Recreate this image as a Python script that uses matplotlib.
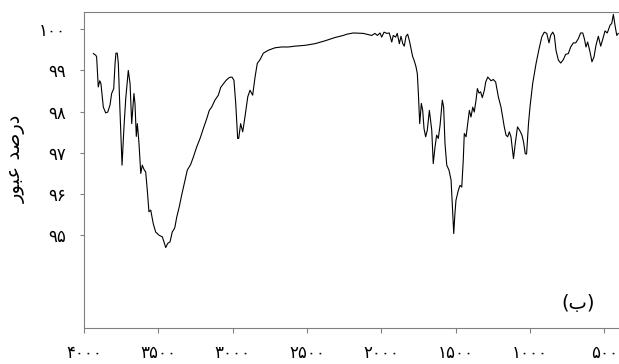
import matplotlib
matplotlib.use("Agg")
import matplotlib.pyplot as plt

# FTIR spectrum (wavenumber cm-1, transmittance %)
wavenumber = [
    3937, 3921, 3915, 3904, 3894, 3886, 3870, 3854, 3840, 3825,
    3814, 3800, 3791, 3785, 3776, 3769, 3758, 3744, 3731, 3719,
    3702, 3690, 3679, 3664, 3657, 3648, 3641, 3630, 3618, 3608,
    3594, 3585, 3574, 3563, 3551, 3534, 3518, 3495, 3473, 3462,
    3450, 3437, 3421, 3406, 3392, 3388, 3376, 3359, 3343, 3320,
    3305, 3282, 3264, 3242, 3219, 3197, 3174, 3157, 3141, 3119,
    3096, 3080, 3063, 3044, 3022, 3004, 2991, 2979, 2966, 2959,
    2946, 2932, 2917, 2898, 2883, 2865, 2849, 2834, 2816, 2793,
    2760, 2715, 2670, 2625, 2580, 2513, 2446, 2378, 2311, 2255,
    2232, 2188, 2121, 2064, 2042, 2026, 2008, 1997, 1981, 1963,
    1946, 1929, 1919, 1903, 1892, 1878, 1867, 1855, 1845, 1833,
    1822, 1811, 1802, 1795, 1788, 1779, 1766, 1757, 1750, 1741,
    1730, 1721, 1712, 1701, 1690, 1676, 1660, 1650, 1638, 1627,
    1616, 1604, 1589, 1580, 1571, 1559, 1544, 1530, 1522, 1512,
    1504, 1497, 1481, 1470, 1458, 1448, 1441, 1429, 1418, 1407,
    1396, 1384, 1374, 1362, 1353, 1342, 1331, 1320, 1306, 1297,
    1283, 1273, 1261, 1246, 1230, 1212, 1194, 1183, 1172, 1160,
    1149, 1138, 1127, 1110, 1098, 1083, 1069, 1053, 1042, 1031,
    1022, 1009, 999, 981, 958, 940, 920, 903, 886, 871,
    860, 846, 835, 824, 808, 792, 775, 759, 741, 725,
    707, 691, 674, 658, 644, 633, 622, 611, 595, 582,
    568, 555, 539, 523, 510, 494, 479, 460, 449, 438,
    427, 415, 405,
]
transmittance = [
    99.41, 99.37, 99.33, 98.60, 98.75, 98.68, 98.11, 97.97, 97.99, 98.16,
    98.44, 98.56, 99.17, 99.42, 99.42, 99.17, 98.03, 96.70, 97.63, 98.32,
    99.00, 98.68, 97.71, 98.44, 98.20, 97.40, 97.71, 97.23, 96.50, 96.70,
    96.58, 96.54, 96.09, 95.57, 95.61, 95.28, 95.08, 95.00, 94.96, 94.84,
    94.70, 94.80, 94.84, 95.08, 95.16, 95.20, 95.44, 95.69, 95.97, 96.34,
    96.58, 96.72, 96.90, 97.14, 97.35, 97.59, 97.83, 98.03, 98.11, 98.28,
    98.40, 98.59, 98.67, 98.76, 98.83, 98.84, 98.76, 98.20, 97.35, 97.35,
    97.71, 97.51, 97.87, 98.36, 98.52, 98.40, 98.84, 99.17, 99.26, 99.42,
    99.49, 99.55, 99.57, 99.57, 99.59, 99.61, 99.65, 99.72, 99.80, 99.85,
    99.88, 99.91, 99.90, 99.85, 99.90, 99.85, 99.91, 99.81, 99.93, 99.90,
    99.91, 99.69, 99.85, 99.81, 99.90, 99.65, 99.83, 99.65, 99.59, 99.83,
    99.88, 99.73, 99.57, 99.45, 99.33, 99.25, 99.09, 98.92, 98.44, 97.71,
    98.20, 98.03, 97.59, 97.39, 97.55, 98.03, 97.55, 96.74, 97.14, 97.43,
    97.35, 97.67, 98.28, 98.11, 97.23, 96.70, 96.58, 96.34, 95.77, 95.04,
    95.53, 95.85, 96.09, 96.21, 96.17, 96.82, 97.47, 97.39, 97.71, 98.03,
    97.87, 98.11, 97.99, 98.28, 98.56, 98.45, 98.48, 98.34, 98.52, 98.72,
    98.84, 98.80, 98.75, 98.78, 98.72, 98.36, 98.11, 97.87, 97.63, 97.43,
    97.39, 97.51, 97.39, 96.86, 97.23, 97.63, 97.55, 97.43, 97.26, 96.98,
    96.97, 97.71, 98.11, 98.68, 99.17, 99.49, 99.81, 99.93, 99.90, 99.67,
    99.85, 99.93, 99.85, 99.49, 99.25, 99.18, 99.26, 99.39, 99.41, 99.57,
    99.67, 99.67, 99.77, 99.91, 99.91, 99.77, 99.57, 99.69, 99.45, 99.21,
    99.33, 99.61, 99.83, 99.59, 99.75, 99.96, 99.91, 100.10, 100.14, 100.36,
    100.10, 99.85, 99.90,
]

x_ticks = [4000, 3500, 3000, 2500, 2000, 1500, 1000, 500]
y_ticks = [95, 96, 97, 98, 99, 100]

# Persian digits for tick labels
fa_digits = str.maketrans("0123456789", "۰۱۲۳۴۵۶۷۸۹")
x_labels = [str(v).translate(fa_digits) for v in x_ticks]
y_labels = [str(v).translate(fa_digits) for v in y_ticks]

# "درصد عبور" and "(ب)" in presentation forms, visual order
y_title = "\ufead\ufeee\ufe92\ufecb \ufeaa\ufebb\ufead\ufea9"
panel_label = "(\ufe8f)"

plt.rcParams['font.family'] = ['DejaVu Sans']

fig = plt.figure(figsize=(6.19, 3.64), dpi=100)
ax = fig.add_axes([0.1357, 0.098, 0.8643, 0.868])

ax.plot(wavenumber, transmittance, color='black', linewidth=0.8)

ax.set_xlim(4000, 400)
ax.set_ylim(92.74, 100.41)
ax.set_xticks(x_ticks)
ax.set_xticklabels(x_labels, fontsize=12)
ax.set_yticks(y_ticks)
ax.set_yticklabels(y_labels, fontsize=12)
ax.tick_params(axis='y', direction='out', length=3, width=0.8, color='#808080', pad=10)
ax.tick_params(axis='x', direction='out', length=3.6, width=0.8, color='#808080', pad=8)

for side in ['left', 'bottom', 'top']:
    ax.spines[side].set_color('#808080')
    ax.spines[side].set_linewidth(0.8)
ax.spines['right'].set_visible(False)

fig.text(0.026, 0.565, y_title, rotation=90, fontsize=14, ha='center', va='center')
ax.text(0.923, 0.08, panel_label, transform=ax.transAxes, fontsize=14,
        ha='center', va='center')

fig.savefig("out.png", dpi=100)
